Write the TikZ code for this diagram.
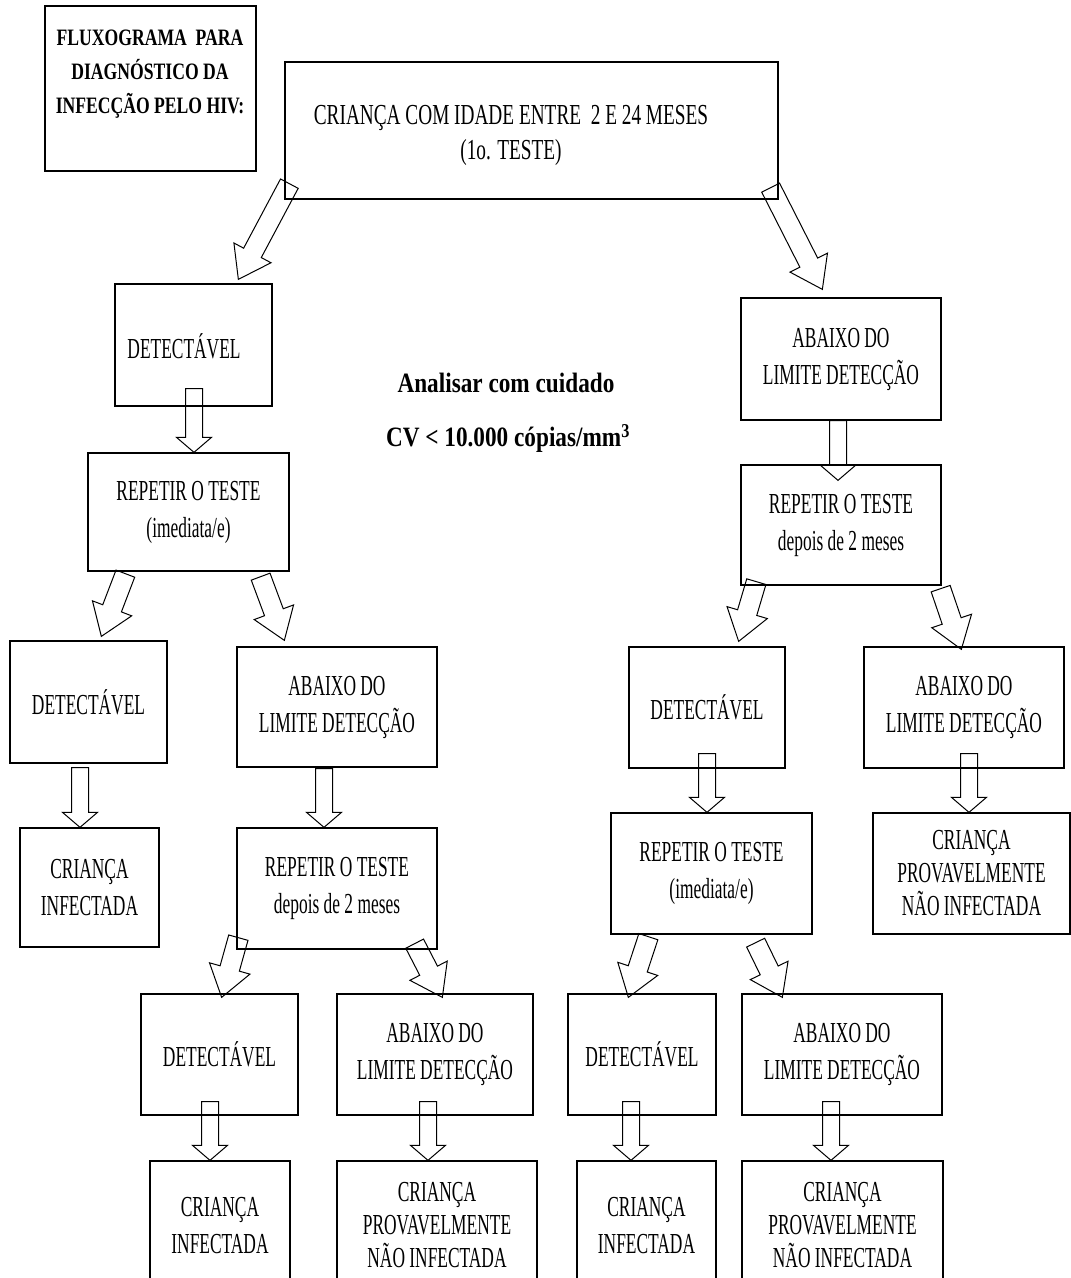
\documentclass[tikz,border=0pt]{standalone}
\usepackage{fontspec}
\setmainfont{Liberation Serif}
\newfontfamily\bodyfont{Liberation Serif}[FakeStretch=0.6]
\newfontfamily\topfont{Liberation Serif}[FakeStretch=0.665]
\newfontfamily\titlefont{Liberation Serif}[FakeStretch=0.75]
\newfontfamily\notefont{Liberation Serif}[FakeStretch=0.83]
\usetikzlibrary{calc}
\tikzset{
  box/.style={draw, line width=1.3pt, inner sep=0pt, align=center,
    font=\bodyfont\fontsize{29}{37}\selectfont},
  box3/.style={box, font=\bodyfont\fontsize{29}{33}\selectfont},
  lbl/.style={inner sep=0pt, align=center, font=\bodyfont\fontsize{29}{37}\selectfont},
  blockarr/.style={draw, line width=1pt, line join=miter},
  note/.style={font=\notefont\bfseries\fontsize{28}{30}\selectfont},
}
% box by corners: [style]{name}{x1}{y1}{x2}{y2}{text}
\newcommand\mybox[7][box]{%
  \node[#1, minimum width={(#5-#3)*1pt}, minimum height={(#6-#4)*1pt}]
    (#2) at ({(#3+#5)/2},{(#4+#6)/2}) {#7};}
% block arrow: {tail}{tip}{shaft half}{head half}{head length}
\newcommand\barrow[5]{%
  \coordinate (bt) at #1;
  \coordinate (bp) at #2;
  \coordinate (bh) at ($(bp)!#5!(bt)$);
  \draw[blockarr] ($(bt)!#3!90:(bp)$) -- ($(bh)!#3!90:(bp)$) -- ($(bh)!#4!90:(bp)$)
     -- (bp) -- ($(bh)!#4!-90:(bp)$) -- ($(bh)!#3!-90:(bp)$) -- ($(bt)!#3!-90:(bp)$) -- cycle;}
\newcommand\varrow[2]{\barrow{#1}{#2}{8.5pt}{17.5pt}{15pt}}
\newcommand\darrow[2]{\barrow{#1}{#2}{10pt}{21pt}{30pt}}
\begin{document}
\begin{tikzpicture}[x=1pt, y=-1pt]
\path[use as bounding box] (0,0) rectangle (1071,1278);
\clip (0,0) rectangle (1071,1278);
% title
\mybox{title}{45}{6}{256}{171}{}
\node[font=\titlefont\bfseries\fontsize{23.5}{34}\selectfont, align=center, inner sep=0pt]
  (ttl) at (150,74) {FLUXOGRAMA\ \ PARA\\DIAGNÓSTICO DA\\INFECÇÃO PELO HIV:};
% boxes
\mybox{top}{285}{62}{778}{199}{}
\node[lbl, font=\topfont\fontsize{29}{35}\selectfont] (toptxt) at (511,135)
  {CRIANÇA COM IDADE ENTRE\ \ 2 E 24 MESES\\(1o. TESTE)};
\mybox{d1}{115}{284}{272}{406}{}
\node[lbl] (d1t) at (184,346) {DETECTÁVEL};
\mybox{a1}{741}{298}{941}{420}{ABAIXO DO\\LIMITE DETECÇÃO}
\mybox{r1}{88}{453}{289}{571}{REPETIR O TESTE\\(imediata/e)}
\mybox{r2}{741}{465}{941}{585}{REPETIR O TESTE\\depois de 2 meses}
\mybox{d2}{10}{641}{167}{763}{DETECTÁVEL}
\mybox{a2}{237}{647}{437}{767}{ABAIXO DO\\LIMITE DETECÇÃO}
\mybox{d3}{629}{647}{785}{768}{DETECTÁVEL}
\mybox{a3}{864}{647}{1064}{768}{ABAIXO DO\\LIMITE DETECÇÃO}
\mybox{c1}{20}{828}{159}{947}{CRIANÇA\\INFECTADA}
\mybox{r3}{237}{828}{437}{949}{REPETIR O TESTE\\depois de 2 meses}
\mybox{r4}{611}{813}{812}{934}{REPETIR O TESTE\\(imediata/e)}
\mybox[box3]{c2}{873}{813}{1070}{934}{CRIANÇA\\PROVAVELMENTE\\NÃO INFECTADA}
\mybox{d4}{141}{994}{298}{1115}{DETECTÁVEL}
\mybox{a4}{337}{994}{533}{1115}{ABAIXO DO\\LIMITE DETECÇÃO}
\mybox{d5}{568}{994}{716}{1115}{DETECTÁVEL}
\mybox{a5}{742}{994}{942}{1115}{ABAIXO DO\\LIMITE DETECÇÃO}
\mybox{c3}{150}{1161}{290}{1291}{CRIANÇA\\INFECTADA}
\mybox[box3]{c4}{337}{1161}{537}{1289}{CRIANÇA\\PROVAVELMENTE\\NÃO INFECTADA}
\mybox{c5}{577}{1161}{716}{1291}{CRIANÇA\\INFECTADA}
\mybox[box3]{c6}{742}{1161}{943}{1289}{CRIANÇA\\PROVAVELMENTE\\NÃO INFECTADA}
% notes
\node[note] (n1) at (506,383) {Analisar com cuidado};
\node[note] (n2) at (508,438) {CV < 10.000 cópias/mm\textsuperscript{3}};
% diagonal arrows
\darrow{($(top.south west)+(5,-16)$)}{($(d1.north west)+(124,-4)$)}
\darrow{($(top.south east)+(-8,-12)$)}{($(a1.north west)+(82,-8)$)}
\darrow{($(r1.south west)+(38,2)$)}{($(d2.north west)+(92,-4)$)}
\darrow{($(r1.south east)+(-29,5)$)}{($(a2.north west)+(48,-6)$)}
\darrow{($(r2.south west)+(16,-4)$)}{($(d3.north east)+(-47,-5)$)}
\darrow{($(r2.south east)+(-1,3)$)}{($(a3.north west)+(98,3)$)}
\darrow{($(r3.south west)+(2,-12)$)}{($(d4.north east)+(-77,4)$)}
\darrow{($(r3.south east)+(-23,-6)$)}{($(a4.north west)+(106,4)$)}
\darrow{($(r4.south west)+(38,2)$)}{($(d5.north west)+(61,4)$)}
\darrow{($(r4.south east)+(-57,8)$)}{($(a5.north west)+(41,4)$)}
% vertical arrows
\varrow{($(d1.south)+(0.5,-18)$)}{(bt |- r1.north)}
\varrow{($(a1.south)+(-3,0)$)}{($(bt |- r2.north)+(0,16)$)}
\varrow{($(d2.south)+(-8.5,4)$)}{(bt |- c1.north)}
\varrow{($(a2.south)+(-13,1)$)}{(bt |- r3.north)}
\varrow{($(d3.south)+(0,-15)$)}{(bt |- r4.north)}
\varrow{($(a3.south)+(5,-15)$)}{(bt |- c2.north)}
\varrow{($(d4.south)+(-9.5,-14)$)}{(bt |- c3.north)}
\varrow{($(a4.south)+(-7,-14)$)}{(bt |- c4.north)}
\varrow{($(d5.south)+(-11,-14)$)}{(bt |- c5.north)}
\varrow{($(a5.south)+(-11,-14)$)}{(bt |- c6.north)}
\end{tikzpicture}
\end{document}
